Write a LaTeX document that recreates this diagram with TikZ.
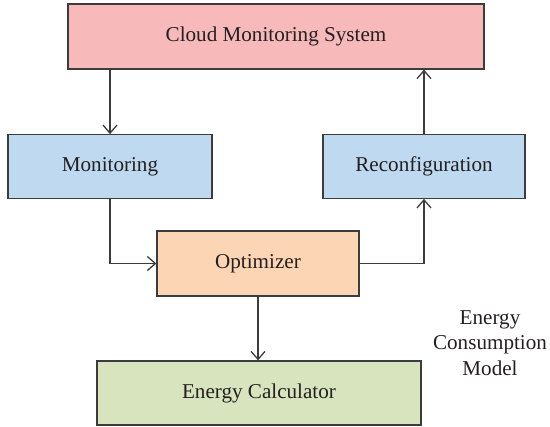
\documentclass[tikz,border=0pt]{standalone}
\usepackage{fontspec}
\setmainfont{Liberation Serif}
\usetikzlibrary{arrows.meta}

\definecolor{cloudpink}{HTML}{F7B9B9}
\definecolor{paneblue}{HTML}{BFDAF0}
\definecolor{peach}{HTML}{FCD5B4}
\definecolor{sage}{HTML}{D7E4BD}
\definecolor{edgegray}{HTML}{3C3C3C}
\definecolor{inkdark}{HTML}{231F20}

\tikzset{
  blk/.style={draw=edgegray, line width=1.3bp, inner sep=0pt, text=inkdark,
              font=\fontsize{21.2}{25.7}\selectfont},
  link/.style={draw=edgegray, line width=1.3bp,
               -{Straight Barb[length=8bp,width=14bp]}},
}

\begin{document}
\begin{tikzpicture}[x=1bp, y=-1bp]
\useasboundingbox (0,0) rectangle (550,426);

% blocks
\node[blk, fill=cloudpink, minimum width=416bp, minimum height=65bp] (cloud) at (276,36.5) {Cloud Monitoring System};
\node[blk, fill=paneblue, minimum width=204bp, minimum height=63.5bp] (mon) at (110,166.5) {Monitoring};
\node[blk, fill=paneblue, minimum width=202bp, minimum height=63.5bp] (reconf) at (424,166.5) {Reconfiguration};
\node[blk, fill=peach, minimum width=202bp, minimum height=65bp] (opt) at (258,263.5) {Optimizer};
\node[blk, fill=sage, minimum width=324bp, minimum height=64bp] (calc) at (259,393) {Energy Calculator};

% side caption
\node[align=center, text=inkdark, inner sep=0pt,
      font=\fontsize{21.2}{25.7}\selectfont] (model) at (490,343) {Energy\\Consumption\\Model};

% connectors
\draw[link] (mon.north |- cloud.south) -- (mon.north);
\draw[link] (mon.south) |- (opt.west);
\draw[link] (opt.east) -| (reconf.south);
\draw[link] (reconf.north) -- (reconf.north |- cloud.south);
\draw[link] (opt.south) -- (opt.south |- calc.north);
\end{tikzpicture}
\end{document}
